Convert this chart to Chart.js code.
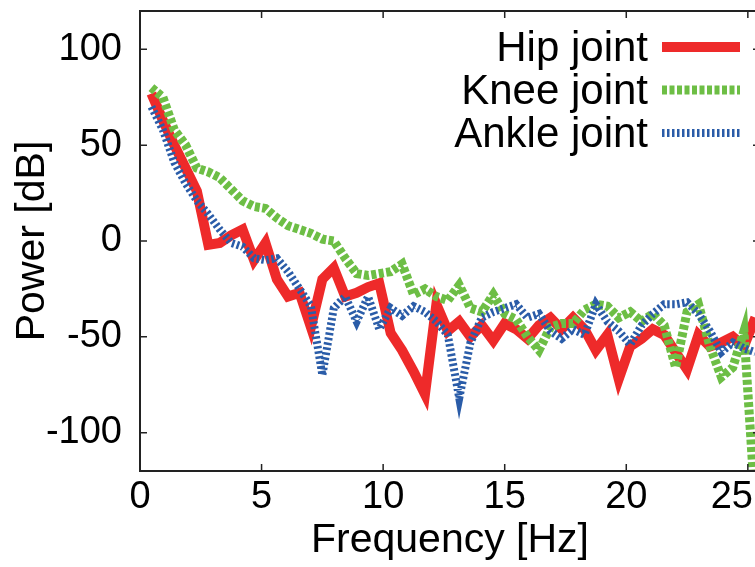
<!DOCTYPE html>
<html>
<head>
<meta charset="utf-8">
<script src="https://cdn.jsdelivr.net/npm/chart.js@4/dist/chart.umd.min.js"></script>
<style>
  html,body{margin:0;padding:0;background:#fff;overflow:hidden;}
</style>
</head>
<body>
<canvas id="graf" width="770" height="567"></canvas>
<script>
// frequenze [Hz] e potenze [dB]
var frequenze=[0.47,0.94,1.41,1.88,2.34,2.81,3.28,3.75,4.22,4.69,5.16,5.63,6.09,6.56,7.03,7.5,7.97,8.44,
  8.91,9.38,9.84,10.31,10.78,11.25,11.72,12.19,12.66,13.13,13.59,14.06,14.53,15,15.47,15.94,16.41,16.88,
  17.34,17.81,18.28,18.75,19.22,19.69,20.16,20.63,21.09,21.56,22.03,22.5,22.97,23.44,23.91,24.38,24.84,25.31];

var anca=[77,63,50,38,26,-2,-1,3,6,-10,-1,-20,-29,-27,-45,-20,-14,-29,-27,-24,-22,-48,-57,-68,-80,-33,
  -47,-42,-50,-44,-52,-43,-46,-51,-44,-40,-46,-40,-46,-57,-49,-72,-55,-51,-46,-49,-58,-67,-49,-55,-53,-50,-55,-40];

var ginocchio=[80,75,58,50,38,36,33,27,21,18,17,12,8,6,4,1,0,-9,-17,-18,-17,-16,-12,-28,-25,-29,-31,-23,
  -35,-37,-28,-38,-41,-50,-57,-45,-43,-43,-36,-33,-34,-40,-37,-42,-38,-44,-66,-37,-33,-55,-71,-66,-47,-140];

var caviglia=[70,58,41,30,21,14,6,-1,-3,-9,-10,-9,-16,-25,-34,-70,-35,-29,-42,-29,-46,-35,-39,-34,-37,-42,
  -49,-82,-53,-40,-37,-35,-33,-40,-38,-47,-51,-46,-49,-33,-42,-47,-54,-44,-38,-33,-33,-32,-38,-47,-58,-53,-56,-58];

var nomi=["Hip joint","Knee joint","Ankle joint"];
var tickX=[0,5,10,15,20,25];
var tickY=[-100,-50,0,50,100];

var FONT="'Liberation Sans', Arial, sans-serif";

function punti(valori){
    var out=[];
    for(var i=0;i<frequenze.length;i++)
        out.push({x:frequenze[i],y:valori[i]});
    return out;
}

function senzaPadding(s){
    s.paddingTop=0; s.paddingBottom=0;
    s.paddingLeft=0; s.paddingRight=0;
}

// bordo del grafico, tacche rivolte verso l'interno (anche a destra e in alto)
// ed etichette dell'asse x, l'ultima tenuta dentro la finestra
var cornice={
    id:"cornice",
    afterDatasetsDraw:function(chart){
        var ctx=chart.ctx, a=chart.chartArea;
        var sx=chart.scales.x, sy=chart.scales.y;
        ctx.save();
        ctx.strokeStyle="#222";
        ctx.lineWidth=1.5;
        ctx.beginPath();
        for(var i=0;i<tickX.length;i++){
            var px=sx.getPixelForValue(tickX[i]);
            ctx.moveTo(px,a.bottom); ctx.lineTo(px,a.bottom-7);
            ctx.moveTo(px,a.top); ctx.lineTo(px,a.top+7);
        }
        for(var j=0;j<tickY.length;j++){
            var py=sy.getPixelForValue(tickY[j]);
            ctx.moveTo(a.left,py); ctx.lineTo(a.left+7,py);
            ctx.moveTo(a.right,py); ctx.lineTo(a.right-7,py);
        }
        ctx.stroke();
        ctx.lineWidth=2;
        ctx.strokeRect(a.left,a.top,a.right-a.left,a.bottom-a.top);

        ctx.font="38px "+FONT;
        ctx.fillStyle="#000";
        ctx.textAlign="center";
        ctx.textBaseline="top";
        var limite=window.innerWidth||755;
        for(var k=0;k<tickX.length;k++){
            var t=String(tickX[k]);
            var w=ctx.measureText(t).width;
            var cx=Math.min(sx.getPixelForValue(tickX[k]),limite-w/2-2);
            ctx.fillText(t,cx,a.bottom+8);
        }
        ctx.restore();
    }
};

// legenda come nell'originale: testo a destra allineato, campione della linea dopo
var legenda={
    id:"legenda",
    afterDraw:function(chart){
        var ctx=chart.ctx;
        ctx.save();
        ctx.font="42px "+FONT;
        ctx.fillStyle="#000";
        ctx.textAlign="right";
        ctx.textBaseline="middle";
        for(var i=0;i<chart.data.datasets.length;i++){
            var ds=chart.data.datasets[i];
            var y=47+i*43;
            ctx.fillText(ds.label,648,y+2);
            ctx.strokeStyle=ds.borderColor;
            ctx.lineWidth=ds.borderWidth;
            ctx.setLineDash(ds.borderDash||[]);
            ctx.beginPath();
            ctx.moveTo(662,y);
            ctx.lineTo(740,y);
            ctx.stroke();
        }
        ctx.restore();
    }
};

var grafico=new Chart("graf",{
    type:"line",
    data:{
        datasets:[{
            label:nomi[0],
            data:punti(anca),
            borderColor:"#ee2a2a",
            borderWidth:10,
            pointRadius:0,
            order:2
        },{
            label:nomi[1],
            data:punti(ginocchio),
            borderColor:"#6dbe45",
            borderWidth:9,
            borderDash:[5,2.5],
            pointRadius:0,
            order:1
        },{
            label:nomi[2],
            data:punti(caviglia),
            borderColor:"#2a5ca8",
            borderWidth:8,
            borderDash:[2.5,2.5],
            pointRadius:0,
            order:0
        }]
    },
    options:{
        responsive:false,
        animation:false,
        layout:{autoPadding:false,padding:{top:11,right:10,left:0,bottom:0}},
        plugins:{legend:{display:false},tooltip:{enabled:false}},
        scales:{
            x:{
                type:"linear",
                min:0,
                max:25.5,
                grid:{display:false,drawTicks:false},
                border:{display:false},
                afterBuildTicks:function(s){s.ticks=tickX.map(function(v){return {value:v};});},
                ticks:{display:false},
                title:{display:true,text:"Frequency [Hz]",color:"#000",font:{family:FONT,size:41},padding:{top:0,bottom:2}},
                afterFit:function(s){s.height=96;senzaPadding(s);}
            },
            y:{
                type:"linear",
                min:-120,
                max:120,
                grid:{display:false,drawTicks:false},
                border:{display:false},
                afterBuildTicks:function(s){s.ticks=tickY.map(function(v){return {value:v};});},
                ticks:{padding:18,color:"#000",font:{family:FONT,size:38}},
                title:{display:true,text:"Power [dB]",color:"#000",font:{family:FONT,size:41},padding:{top:8,bottom:0}},
                afterFit:function(s){s.width=140;senzaPadding(s);}
            }
        }
    },
    plugins:[cornice,legenda]
});
</script>
</body>
</html>
